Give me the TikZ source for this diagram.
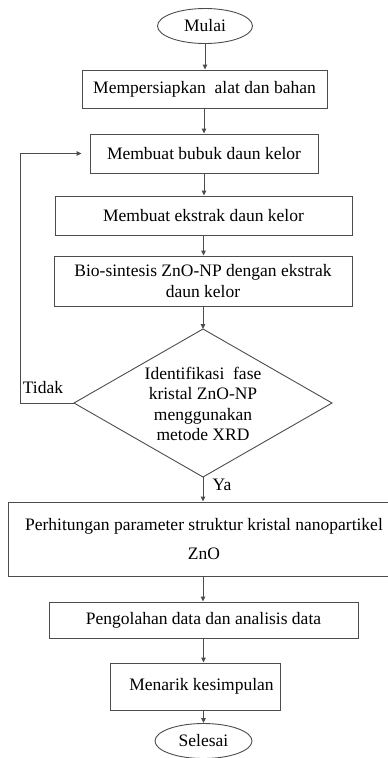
\documentclass[tikz,border=0pt]{standalone}
\usepackage{fontspec}
\setmainfont{Liberation Serif}
\usetikzlibrary{shapes.geometric,arrows.meta}
\begin{document}
\begin{tikzpicture}[x=1pt,y=-1pt,
  every node/.style={font=\fontsize{17.5}{20.5}\selectfont, text=black},
  line/.style={draw=black!70, line width=0.9pt},
  arr/.style={line, -{Triangle[length=5pt,width=4.5pt]}},
  box/.style={line, rectangle, inner sep=0pt, align=center},
  term/.style={line, ellipse, inner sep=0pt, minimum width=95pt, minimum height=35pt},
  lbl/.style={inner sep=0pt}
]
\useasboundingbox (0,0) rectangle (388,758);
\node[term] (start) at (205,26) {Mulai};
\node[box, minimum width=245pt, minimum height=38pt] (b1) at (204.5,89) {Mempersiapkan\ \ alat dan bahan};
\node[box, minimum width=228pt, minimum height=39pt] (b2) at (204,153.5) {Membuat bubuk daun kelor};
\node[box, minimum width=297pt, minimum height=39pt] (b3) at (203.5,215.5) {Membuat ekstrak daun kelor};
\node[box, minimum width=298pt, minimum height=50pt] (b4) at (203,281) {Bio-sintesis ZnO-NP dengan ekstrak\\daun kelor};
\node[inner sep=0pt, align=center] (dt) at (203,404) {Identifikasi\ \ fase\\kristal ZnO-NP\\menggunakan\\metode XRD};
\coordinate (dn) at (203,329);
\coordinate (ds) at (203,477);
\coordinate (dw) at (74,403);
\coordinate (de) at (332,403);
\draw[line] (dn) -- (de) -- (ds) -- (dw) -- cycle;
\node[box, minimum width=392pt, minimum height=74pt] (b5) at (204,539) {Perhitungan parameter struktur kristal nanopartikel\\[8pt]ZnO};
\node[box, minimum width=309pt, minimum height=36pt] (b6) at (203.5,620) {Pengolahan data dan analisis data};
\node[box, minimum width=170pt, minimum height=47pt] (b7) at (195,686.5) {\hspace*{13pt}Menarik kesimpulan};
\node[term, minimum width=97pt] (end) at (203.5,741) {Selesai};
\node[lbl] (ya) at (222,485) {Ya};
\node[lbl] (tidak) at (43,388) {Tidak};

\draw[arr] (start.south) -- (start.south |- b1.north);
\draw[arr] (204,108) -- (b2.north -| 204,0);
\draw[arr] (b2.south) -- (b2.south |- b3.north);
\draw[arr] (b3.south) -- (b3.south |- b4.north);
\draw[arr] (b4.south) -- (dn);
\draw[arr] (ds) -- (ds |- b5.north);
\draw[arr] (b5.south -| ds) -- (ds |- b6.north);
\draw[arr] (b6.south) -- (b6.south |- b7.north);
\draw[arr] (b7.south -| b6.south) -- (end.north);
\draw[arr] (dw) -- (20,403) |- ([xshift=-8pt]b2.west);
\end{tikzpicture}
\end{document}
